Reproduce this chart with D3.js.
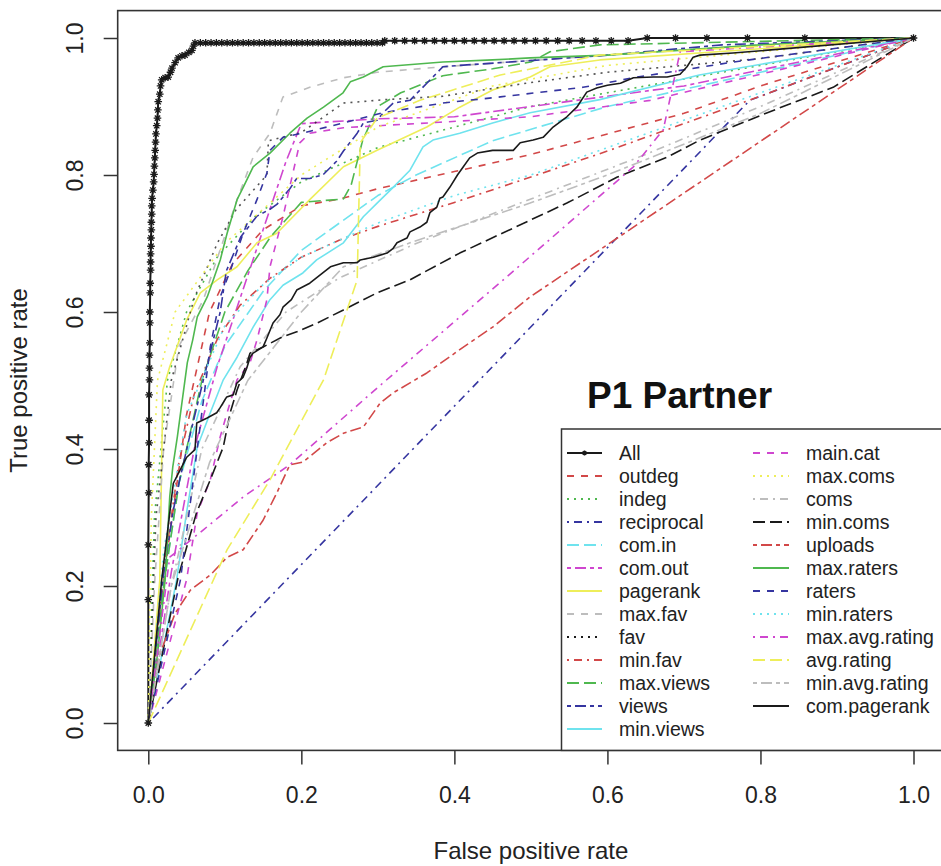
<!DOCTYPE html>
<html>
<head>
<meta charset="utf-8">
<script src="https://cdn.jsdelivr.net/npm/d3@7"></script>
<style>
  html, body { margin: 0; padding: 0; background: #fff; }
  svg { display: block; font-family: "Liberation Sans", Arial, Helvetica, sans-serif; }
</style>
</head>
<body>
<svg id="chart" width="941" height="866"></svg>
<script>
// ROC curves, one [false positive rate, true positive rate] list per predictor
const seriesNames = ["All", "outdeg", "indeg", "reciprocal", "com.in", "com.out", "pagerank",
  "max.fav", "fav", "min.fav", "max.views", "views", "min.views", "main.cat", "max.coms",
  "coms", "min.coms", "uploads", "max.raters", "raters", "min.raters", "max.avg.rating",
  "avg.rating", "min.avg.rating", "com.pagerank"];

const rocAll = [
  [0,0],[0,0.18],[0,0.26],[0.0005,0.336],[0.0005,0.377],[0.001,0.409],[0.001,0.442],[0.001,0.479],
  [0.0015,0.501],[0.0015,0.518],[0.0015,0.537],[0.002,0.555],[0.002,0.584],[0.002,0.6],[0.0025,0.628],
  [0.0025,0.642],[0.003,0.661],[0.003,0.673],[0.003,0.685],[0.0035,0.696],[0.0035,0.708],[0.004,0.72],
  [0.004,0.731],[0.0045,0.743],[0.0045,0.755],[0.005,0.766],[0.006,0.778],[0.007,0.79],[0.0075,0.801],
  [0.008,0.813],[0.0085,0.825],[0.009,0.836],[0.0095,0.848],[0.01,0.86],[0.011,0.872],[0.012,0.883],
  [0.0125,0.895],[0.013,0.907],[0.015,0.918],[0.016,0.93],[0.0175,0.939],[0.022,0.942],[0.026,0.943],
  [0.029,0.95],[0.031,0.956],[0.035,0.964],[0.039,0.971],[0.044,0.974],[0.048,0.975],[0.053,0.979],
  [0.057,0.982],[0.059,0.988],[0.061,0.993],
  [0.068,0.993],[0.075,0.993],[0.082,0.993],[0.089,0.993],[0.096,0.993],[0.103,0.993],[0.11,0.993],
  [0.117,0.993],[0.124,0.993],[0.131,0.993],[0.138,0.993],[0.145,0.993],[0.152,0.993],[0.159,0.993],
  [0.166,0.993],[0.173,0.993],[0.18,0.993],[0.187,0.993],[0.194,0.993],[0.201,0.993],[0.208,0.993],
  [0.215,0.993],[0.222,0.993],[0.229,0.993],[0.236,0.993],[0.243,0.993],[0.25,0.993],[0.257,0.993],
  [0.264,0.993],[0.271,0.993],[0.278,0.993],[0.285,0.993],[0.292,0.993],[0.299,0.993],[0.306,0.993],
  [0.309,0.996],[0.322,0.996],[0.335,0.996],[0.348,0.996],[0.361,0.996],[0.374,0.996],[0.387,0.996],
  [0.4,0.996],[0.413,0.996],[0.426,0.996],[0.439,0.996],[0.452,0.996],[0.465,0.996],[0.478,0.996],
  [0.492,0.996],[0.506,0.996],[0.52,0.996],[0.535,0.996],[0.55,0.996],[0.567,0.996],[0.585,0.996],
  [0.605,0.996],[0.627,0.996],[0.652,1],[0.689,1],[0.73,1],[0.783,1],[0.858,1],[1,1]];

const rocOutdeg = [[0,0],[0.01,0.12],[0.025,0.25],[0.05,0.45],[0.08,0.6],[0.11,0.67],[0.15,0.72],
  [0.2,0.755],[0.25,0.765],[0.3,0.78],[0.4,0.805],[0.5,0.83],[0.6,0.86],[0.7,0.89],[0.8,0.93],[0.9,0.965],[1,1]];
const rocIndeg = [[0,0],[0.008,0.3],[0.025,0.5],[0.05,0.6],[0.09,0.68],[0.14,0.74],[0.2,0.79],
  [0.3,0.84],[0.4,0.87],[0.5,0.9],[0.7,0.94],[1,1]];
const rocReciprocal = [[0,0],[0.786,0.909],[1,1]];
const rocComIn = [[0,0],[0.02,0.2],[0.04,0.35],[0.07,0.47],[0.1,0.55],[0.15,0.63],[0.2,0.69],
  [0.25,0.73],[0.3,0.77],[0.35,0.8],[0.45,0.85],[0.6,0.9],[0.8,0.95],[1,1]];
const rocComOut = [[0,0],[0.03,0.22],[0.06,0.4],[0.09,0.52],[0.12,0.62],[0.15,0.72],[0.18,0.82],
  [0.2,0.875],[0.3,0.882],[0.4,0.885],[0.5,0.9],[0.7,0.93],[1,1]];
const rocPagerank = [[0,0],[0.015,0.209],[0.019,0.486],[0.028,0.52],[0.05,0.588],[0.068,0.628],
  [0.09,0.647],[0.116,0.666],[0.142,0.701],[0.168,0.715],[0.211,0.764],[0.255,0.812],[0.299,0.836],
  [0.32,0.847],[0.364,0.87],[0.407,0.899],[0.45,0.924],[0.499,0.943],[0.525,0.958],[0.59,0.968],[1,1]];
const rocMaxFav = [[0,0],[0.008,0.2],[0.02,0.4],[0.04,0.55],[0.072,0.618],[0.094,0.691],[0.116,0.764],
  [0.137,0.826],[0.159,0.861],[0.176,0.914],[0.194,0.921],[0.211,0.928],[0.255,0.942],[0.299,0.95],
  [0.385,0.958],[0.473,0.965],[0.6,0.975],[0.8,0.99],[1,1]];
const rocFav = [[0,0],[0.01,0.3],[0.03,0.5],[0.06,0.62],[0.09,0.7],[0.115,0.75],[0.155,0.8],
  [0.157,0.85],[0.2,0.862],[0.255,0.905],[0.31,0.91],[0.385,0.915],[0.5,0.935],[0.6,0.95],[0.8,0.97],[1,1]];
const rocMinFav = [[0,0],[0.02,0.22],[0.04,0.38],[0.06,0.48],[0.09,0.56],[0.12,0.61],[0.16,0.65],
  [0.2,0.68],[0.25,0.705],[0.3,0.725],[0.4,0.76],[0.5,0.797],[0.6,0.835],[0.8,0.915],[1,1]];
const rocMaxViews = [[0,0],[0.02,0.2],[0.04,0.35],[0.07,0.5],[0.1,0.6],[0.13,0.66],[0.16,0.71],
  [0.2,0.76],[0.255,0.765],[0.265,0.785],[0.28,0.85],[0.3,0.9],[0.33,0.92],[0.385,0.945],[0.45,0.955],
  [0.5,0.965],[0.525,0.98],[0.59,0.99],[1,1]];
const rocViews = [[0,0],[0.019,0.209],[0.032,0.307],[0.041,0.355],[0.054,0.418],[0.072,0.501],
  [0.094,0.6],[0.102,0.66],[0.121,0.71],[0.142,0.74],[0.159,0.75],[0.168,0.757],[0.185,0.78],
  [0.194,0.795],[0.211,0.795],[0.228,0.8],[0.246,0.82],[0.255,0.835],[0.273,0.861],[0.281,0.876],
  [0.299,0.88],[0.307,0.891],[0.32,0.905],[0.342,0.909],[0.364,0.934],[0.385,0.958],[0.407,0.96],
  [0.499,0.967],[0.6,0.975],[0.75,0.99],[1,1]];
const rocMinViews = [[0,0],[0.037,0.209],[0.05,0.307],[0.064,0.403],[0.081,0.453],[0.098,0.501],
  [0.116,0.534],[0.137,0.578],[0.159,0.618],[0.176,0.639],[0.202,0.657],[0.22,0.676],[0.255,0.701],
  [0.281,0.739],[0.299,0.759],[0.32,0.782],[0.342,0.807],[0.359,0.841],[0.372,0.851],[0.407,0.861],
  [0.45,0.876],[0.499,0.891],[0.59,0.91],[0.72,0.946],[1,1]];
const rocMainCat = [[0,0],[0.05,0.209],[0.064,0.307],[0.081,0.355],[0.094,0.418],[0.103,0.453],
  [0.116,0.501],[0.133,0.526],[0.142,0.559],[0.155,0.618],[0.159,0.666],[0.176,0.739],[0.189,0.803],
  [0.198,0.847],[0.211,0.861],[0.255,0.869],[0.381,0.877],[0.499,0.885],[0.656,0.909],[1,1]];
const rocMaxComs = [[0,0],[0.004,0.3],[0.012,0.5],[0.035,0.6],[0.1,0.7],[0.2,0.8],[0.3,0.87],
  [0.45,0.93],[0.6,0.96],[1,1]];
const rocComs = [[0,0],[0.03,0.2],[0.07,0.4],[0.12,0.52],[0.18,0.6],[0.25,0.65],[0.35,0.7],
  [0.5,0.765],[0.65,0.83],[0.8,0.9],[1,1]];
const rocMinComs = [[0,0],[0.039,0.213],[0.063,0.307],[0.081,0.355],[0.098,0.403],[0.107,0.453],
  [0.116,0.486],[0.129,0.526],[0.133,0.54],[0.15,0.549],[0.176,0.564],[0.194,0.571],[0.221,0.584],
  [0.255,0.603],[0.299,0.628],[0.342,0.647],[0.407,0.686],[0.499,0.734],[0.547,0.759],[0.613,0.797],
  [0.678,0.826],[0.721,0.851],[0.809,0.891],[0.895,0.928],[1,1]];
const rocUploads = [[0,0],[0.015,0.1],[0.035,0.16],[0.055,0.194],[0.081,0.216],[0.103,0.242],
  [0.124,0.253],[0.15,0.296],[0.168,0.336],[0.185,0.377],[0.202,0.381],[0.233,0.409],[0.255,0.423],
  [0.281,0.432],[0.303,0.467],[0.32,0.482],[0.364,0.511],[0.407,0.545],[0.45,0.578],[0.499,0.622],[1,1]];
const rocMaxRaters = [[0,0],[0.012,0.1],[0.022,0.209],[0.028,0.33],[0.032,0.374],[0.038,0.418],
  [0.051,0.526],[0.058,0.559],[0.064,0.593],[0.077,0.622],[0.085,0.647],[0.094,0.676],[0.103,0.715],
  [0.116,0.764],[0.124,0.782],[0.137,0.812],[0.159,0.832],[0.185,0.861],[0.2075,0.883],[0.229,0.899],
  [0.2545,0.92],[0.264,0.936],[0.281,0.943],[0.307,0.958],[0.385,0.965],[0.45,0.968],[0.499,0.971],
  [0.6,0.975],[0.8,0.99],[1,1]];
const rocRaters = [[0,0],[0.042,0.209],[0.081,0.549],[0.094,0.622],[0.107,0.66],[0.124,0.715],
  [0.142,0.764],[0.155,0.803],[0.159,0.836],[0.176,0.855],[0.201,0.861],[0.255,0.876],[0.307,0.891],
  [0.385,0.905],[0.46,0.914],[0.568,0.928],[0.634,0.942],[0.765,0.965],[0.852,0.978],[1,1]];
const rocMinRaters = [[0,0],[0.02,0.25],[0.05,0.45],[0.1,0.58],[0.15,0.64],[0.2,0.68],[0.3,0.73],
  [0.4,0.77],[0.5,0.8],[0.6,0.84],[0.8,0.92],[1,1]];
const rocMaxAvgRating = [[0,0],[0.028,0.242],[0.072,0.282],[0.124,0.33],[0.185,0.377],[0.3,0.49],
  [0.464,0.647],[0.634,0.812],[0.673,0.866],[0.695,0.98],[1,1]];
const rocAvgRating = [[0,0],[0.103,0.253],[0.159,0.355],[0.229,0.501],[0.273,0.647],[0.277,0.847],
  [0.299,0.883],[0.355,0.909],[0.46,0.946],[0.59,0.975],[1,1]];
const rocMinAvgRating = [[0,0],[0.03,0.2],[0.08,0.38],[0.13,0.5],[0.2,0.6],[0.255,0.666],
  [0.342,0.701],[0.499,0.759],[0.6,0.8],[0.8,0.89],[1,1]];
const rocComPagerank = [[0,0],[0.0175,0.209],[0.0327,0.35],[0.0502,0.388],[0.061,0.399],[0.0633,0.438],
  [0.0763,0.445],[0.0894,0.453],[0.0937,0.46],[0.1025,0.476],[0.111,0.479],[0.1156,0.496],[0.124,0.505],
  [0.1286,0.518],[0.133,0.534],[0.137,0.54],[0.15,0.549],[0.155,0.562],[0.163,0.584],[0.172,0.596],
  [0.176,0.607],[0.187,0.618],[0.194,0.632],[0.211,0.642],[0.228,0.657],[0.238,0.666],[0.255,0.672],
  [0.273,0.672],[0.277,0.676],[0.294,0.68],[0.312,0.686],[0.32,0.693],[0.325,0.701],[0.338,0.708],
  [0.342,0.717],[0.355,0.724],[0.364,0.731],[0.368,0.745],[0.377,0.753],[0.381,0.766],[0.385,0.768],
  [0.394,0.782],[0.404,0.8],[0.411,0.811],[0.42,0.825],[0.43,0.832],[0.45,0.836],[0.477,0.836],
  [0.486,0.847],[0.503,0.851],[0.516,0.855],[0.529,0.87],[0.547,0.885],[0.56,0.899],[0.573,0.921],
  [0.586,0.927],[0.6,0.931],[0.617,0.934],[0.634,0.942],[0.66,0.943],[0.678,0.943],[0.695,0.947],
  [0.704,0.958],[0.712,0.972],[0.721,0.975],[0.764,0.978],[1,1]];

const rocCurves = [rocAll, rocOutdeg, rocIndeg, rocReciprocal, rocComIn, rocComOut, rocPagerank,
  rocMaxFav, rocFav, rocMinFav, rocMaxViews, rocViews, rocMinViews, rocMainCat, rocMaxComs,
  rocComs, rocMinComs, rocUploads, rocMaxRaters, rocRaters, rocMinRaters, rocMaxAvgRating,
  rocAvgRating, rocMinAvgRating, rocComPagerank];

const tickValues = [0, 0.2, 0.4, 0.6, 0.8, 1.0];
const plotTitle = "P1 Partner";
const xTitle = "False positive rate";
const yTitle = "True positive rate";

// styling: colours cycle through 8, line types through 6 (base R style)
const palette = ["#1a1a1a", "#d24848", "#4fb84f", "#3535a0", "#6fe3ee", "#cf46cf", "#eeee5a", "#bdbdbd"];
const dashes = [null, "7,7", "2,5", "2,5,8,5", "12,5", "4,4,11,4"];
const styleOf = i => ({ color: palette[i % 8], dash: dashes[i % 6] });

const svg = d3.select("#chart");
const x = d3.scaleLinear().domain([0, 1]).range([148.3, 913.5]);
const y = d3.scaleLinear().domain([0, 1]).range([723, 38]);
// plot region extends 4% beyond the data range on each side
const x0 = x(-0.04), x1 = x(1.04), yTop = y(1.04), yBot = y(-0.04);

const line = d3.line().x(d => x(d[0])).y(d => y(d[1]));

const curves = svg.append("g");
rocCurves.forEach((pts, i) => {
  const s = styleOf(i);
  curves.append("path")
    .attr("d", line(pts))
    .attr("fill", "none")
    .attr("stroke", s.color)
    .attr("stroke-width", i === 0 ? 2 : 1.6)
    .attr("stroke-opacity", i === 8 ? 0.75 : 1)
    .attr("stroke-dasharray", s.dash)
    .attr("stroke-linejoin", "round");
});

// star markers on the combined model
const star = (g, cx, cy, r) => {
  const p = d3.path();
  for (let k = 0; k < 4; k++) {
    const a = k * Math.PI / 4;
    p.moveTo(cx - r * Math.cos(a), cy - r * Math.sin(a));
    p.lineTo(cx + r * Math.cos(a), cy + r * Math.sin(a));
  }
  g.append("path").attr("d", p.toString()).attr("stroke", palette[0]).attr("stroke-width", 1.3).attr("fill", "none");
};
const stars = svg.append("g");
rocAll.forEach(d => star(stars, x(d[0]), y(d[1]), 3.8));

// frame
svg.append("rect").attr("x", x0).attr("y", yTop).attr("width", x1 - x0).attr("height", yBot - yTop)
  .attr("fill", "none").attr("stroke", "#333").attr("stroke-width", 1.6);

// axes
const fmt = d3.format(".1f");
const xAxis = svg.append("g").attr("transform", `translate(0,${yBot})`)
  .call(d3.axisBottom(x).tickValues(tickValues).tickFormat(fmt).tickSizeInner(14).tickSizeOuter(0).tickPadding(22));
const yAxis = svg.append("g").attr("transform", `translate(${x0},0)`)
  .call(d3.axisLeft(y).tickValues(tickValues).tickFormat(fmt).tickSizeInner(14).tickSizeOuter(0));
[xAxis, yAxis].forEach(a => {
  a.select(".domain").remove();
  a.selectAll("line").attr("stroke", "#333").attr("stroke-width", 1.5);
  a.selectAll("text").attr("fill", "#222").style("font-size", "23px")
    .style("font-family", "'Liberation Sans', Arial, Helvetica, sans-serif");
});
yAxis.selectAll("text")
  .attr("x", null).attr("dy", null)
  .attr("text-anchor", "middle")
  .attr("transform", "rotate(-90)")
  .attr("y", -35);

svg.append("text").attr("x", (x0 + x1) / 2).attr("y", 859).attr("text-anchor", "middle")
  .style("font-size", "24px").attr("fill", "#222").text(xTitle);
svg.append("text").attr("transform", `translate(27,${(yTop + yBot) / 2}) rotate(-90)`)
  .attr("text-anchor", "middle").style("font-size", "24px").attr("fill", "#222").text(yTitle);

// panel title
svg.append("text").attr("x", 587).attr("y", 408).style("font-size", "37px").style("font-weight", "bold")
  .attr("fill", "#111").text(plotTitle);

// legend
const leg = svg.append("g");
leg.append("rect").attr("x", 561.5).attr("y", 429).attr("width", x1 - 561.5).attr("height", yBot - 429)
  .attr("fill", "#fff").attr("stroke", "#333").attr("stroke-width", 1.5);
const rowsPerCol = 13, rowH = 23, firstRow = 453;
const cols = [{ l0: 567, l1: 602, tx: 619 }, { l0: 753, l1: 789, tx: 806 }];
seriesNames.forEach((name, i) => {
  const c = cols[Math.floor(i / rowsPerCol)];
  const cy = firstRow + (i % rowsPerCol) * rowH;
  const s = styleOf(i);
  leg.append("line").attr("x1", c.l0).attr("x2", c.l1).attr("y1", cy).attr("y2", cy)
    .attr("stroke", s.color).attr("stroke-width", 1.8).attr("stroke-dasharray", s.dash);
  if (i === 0) star(leg, (c.l0 + c.l1) / 2, cy, 2.5);
  leg.append("text").attr("x", c.tx).attr("y", cy).attr("dy", "0.36em")
    .style("font-size", "19.5px").attr("fill", "#222").text(name);
});
</script>
</body>
</html>
